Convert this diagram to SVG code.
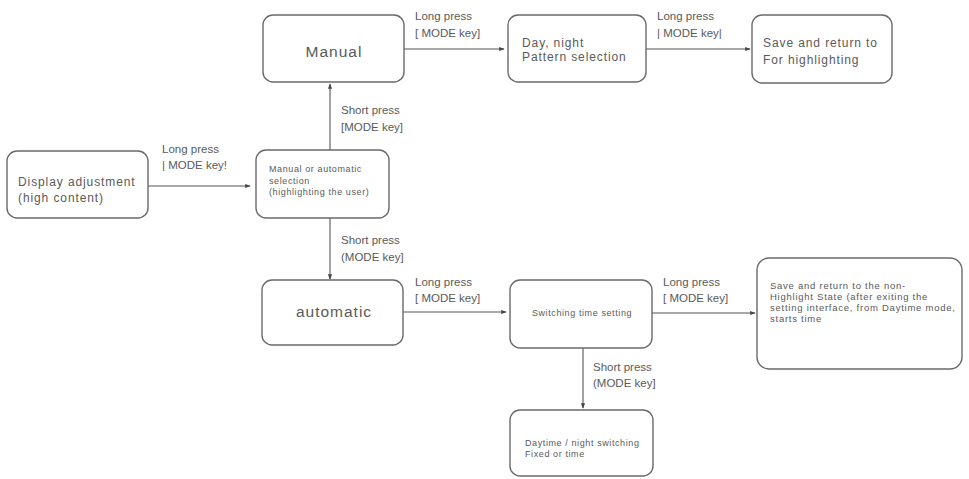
<svg xmlns="http://www.w3.org/2000/svg" width="969" height="479" viewBox="0 0 969 479">
<defs>
<style>
.box{fill:#fff;stroke:#6a6a6a;stroke-width:1.4}
.t{font-family:"Liberation Sans",Arial,sans-serif;fill:#5a5a5a}
.lbl{font-size:11.5px}
.big{font-size:15.5px;letter-spacing:1px}
.mid{font-size:12px;letter-spacing:0.9px}
.sm{font-size:9px;letter-spacing:0.6px}
.sm2{font-size:9.5px;letter-spacing:0.75px}
.ln{stroke:#555;stroke-width:1.1;fill:none;marker-end:url(#ah)}
</style>
<marker id="ah" viewBox="0 0 8 8" refX="7" refY="4" markerWidth="5" markerHeight="5" orient="auto">
<path d="M0,1 L8,4 L0,7 z" fill="#444"/>
</marker>
</defs>
<rect width="969" height="479" fill="#fff"/>
<g id="connectors">
<line class="ln" x1="148" y1="186" x2="250" y2="186"/>
<line class="ln" x1="330" y1="150" x2="330" y2="84"/>
<line class="ln" x1="330" y1="218" x2="330" y2="279"/>
<line class="ln" x1="404" y1="49" x2="504" y2="49"/>
<line class="ln" x1="646" y1="49" x2="750" y2="49"/>
<line class="ln" x1="403" y1="312" x2="506" y2="312"/>
<line class="ln" x1="652" y1="313" x2="755" y2="313"/>
<line class="ln" x1="583" y1="348" x2="583" y2="408"/>
<g class="t lbl">
<text x="162" y="153">Long press</text><text x="162" y="169">| MODE key!</text>
<text x="341" y="114">Short press</text><text x="341" y="131">[MODE key]</text>
<text x="341" y="244">Short press</text><text x="341" y="261">(MODE key]</text>
<text x="415" y="20">Long press</text><text x="415" y="37">[ MODE key]</text>
<text x="657" y="20">Long press</text><text x="657" y="37">| MODE key|</text>
<text x="415" y="286">Long press</text><text x="415" y="302">[ MODE key]</text>
<text x="663" y="286">Long press</text><text x="663" y="302">[ MODE key]</text>
<text x="593" y="371">Short press</text><text x="593" y="387">(MODE key]</text>
</g>
</g>
<g id="n-display"><rect class="box" x="7" y="151" width="141" height="67" rx="10"/>
<text class="t mid" x="18" y="186">Display adjustment</text><text class="t mid" x="18" y="202">(high content)</text></g>
<g id="n-select"><rect class="box" x="256" y="150" width="133" height="68" rx="10"/>
<text class="t sm" x="269" y="172">Manual or automatic</text><text class="t sm" x="269" y="184">selection</text><text class="t sm" x="269" y="195">(highlighting the user)</text></g>
<g id="n-manual"><rect class="box" x="263" y="15" width="141" height="67" rx="10"/>
<text class="t big" x="334" y="57" text-anchor="middle">Manual</text></g>
<g id="n-daynight"><rect class="box" x="508" y="15" width="138" height="67" rx="10"/>
<text class="t mid" x="522" y="47">Day, night</text><text class="t mid" x="522" y="61">Pattern selection</text></g>
<g id="n-save1"><rect class="box" x="752" y="15" width="140" height="68" rx="10"/>
<text class="t mid" x="763" y="47">Save and return to</text><text class="t mid" x="763" y="64">For highlighting</text></g>
<g id="n-auto"><rect class="box" x="262" y="280" width="141" height="65" rx="10"/>
<text class="t big" x="334" y="317" text-anchor="middle">automatic</text></g>
<g id="n-switch"><rect class="box" x="510" y="280" width="142" height="68" rx="10"/>
<text class="t sm" x="582" y="316" text-anchor="middle">Switching time setting</text></g>
<g id="n-save2"><rect class="box" x="757" y="258" width="205" height="111" rx="12"/>
<text class="t sm2" x="770" y="289">Save and return to the non-</text><text class="t sm2" x="770" y="300">Highlight State (after exiting the</text><text class="t sm2" x="770" y="311">setting interface, from Daytime mode,</text><text class="t sm2" x="770" y="322">starts time</text></g>
<g id="n-daytime"><rect class="box" x="510" y="410" width="143" height="66" rx="10"/>
<text class="t sm" x="525" y="446">Daytime / night switching</text><text class="t sm" x="525" y="457">Fixed or time</text></g>
</svg>
